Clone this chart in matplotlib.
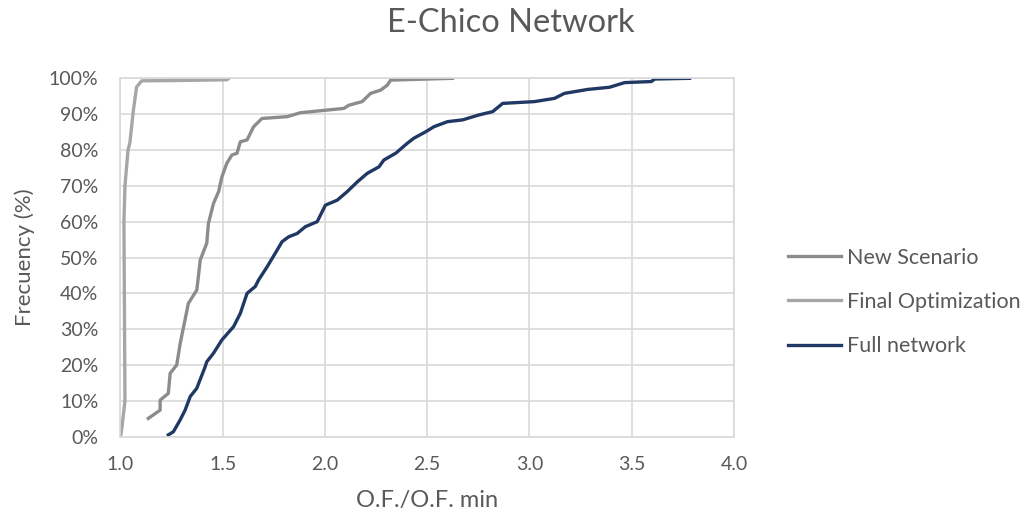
import matplotlib
matplotlib.use("Agg")
import matplotlib.pyplot as plt
from matplotlib.ticker import FuncFormatter, MultipleLocator

plt.rcParams['font.family'] = ['Lato', 'DejaVu Sans']

# cumulative frequency curves (O.F./O.F. min vs %)
new_x = [1.136, 1.194, 1.194, 1.234, 1.243, 1.275, 1.292, 1.332, 1.373, 1.381,
         1.39, 1.422, 1.43, 1.455, 1.48, 1.496, 1.52, 1.545, 1.57, 1.586,
         1.619, 1.651, 1.692, 1.815, 1.88, 2.092, 2.117, 2.182, 2.223, 2.272,
         2.305, 2.321, 2.624]
new_y = [5.1, 7.4, 10.2, 12.1, 17.7, 20.0, 26.0, 37.2, 40.9, 44.6,
         49.3, 54.0, 59.5, 65.1, 68.4, 72.5, 76.3, 78.6, 79.1, 82.3,
         82.8, 86.5, 88.8, 89.3, 90.4, 91.6, 92.5, 93.5, 95.8, 96.7,
         98.1, 99.5, 100.0]

final_x = [1.0, 1.006, 1.022, 1.017, 1.022, 1.037, 1.046, 1.063, 1.079, 1.104,
           1.30, 1.52, 1.53]
final_y = [0.0, 2.0, 10.0, 60.0, 70.0, 80.0, 82.0, 91.0, 97.6, 99.3,
           99.4, 99.6, 100.0]

full_x = [1.234, 1.259, 1.292, 1.316, 1.341, 1.373, 1.414, 1.422, 1.455, 1.496,
          1.553, 1.586, 1.619, 1.659, 1.675, 1.717, 1.757, 1.79, 1.823, 1.864,
          1.904, 1.962, 2.002, 2.06, 2.109, 2.158, 2.207, 2.264, 2.288, 2.346,
          2.403, 2.435, 2.493, 2.533, 2.599, 2.673, 2.754, 2.82, 2.869, 3.024,
          3.122, 3.171, 3.285, 3.391, 3.465, 3.596, 3.612, 3.783]
full_y = [0.5, 1.4, 4.7, 7.4, 11.2, 13.5, 19.5, 20.9, 23.3, 27.0,
          30.7, 34.4, 40.0, 41.9, 43.7, 47.4, 51.2, 54.4, 55.8, 56.7,
          58.6, 60.0, 64.6, 66.0, 68.4, 71.1, 73.5, 75.3, 77.2, 79.1,
          81.9, 83.3, 85.1, 86.5, 87.9, 88.4, 89.8, 90.7, 93.0, 93.5,
          94.4, 95.8, 96.9, 97.5, 98.8, 99.1, 99.8, 100.0]

grey_txt = '#595959'

fig = plt.figure(figsize=(10.27, 5.2), dpi=100)
ax = fig.add_axes([0.1173, 0.1602, 0.5974, 0.6892])

ax.plot(new_x, new_y, color='#8c8c8c', lw=2.4, label='New Scenario')
ax.plot(final_x, final_y, color='#a6a6a6', lw=2.4, label='Final Optimization')
ax.plot(full_x, full_y, color='#203864', lw=2.4, label='Full network')

ax.set_xlim(1.0, 4.0)
ax.set_ylim(0, 100)
ax.xaxis.set_major_locator(MultipleLocator(0.5))
ax.yaxis.set_major_locator(MultipleLocator(10))
ax.xaxis.set_major_formatter(FuncFormatter(lambda v, p: f'{v:.1f}'))
ax.yaxis.set_major_formatter(FuncFormatter(lambda v, p: f'{v:.0f}%'))
ax.grid(True, color='#d9d9d9', lw=1.2)
ax.set_axisbelow(True)
for s in ax.spines.values():
    s.set_color('#d9d9d9')
    s.set_linewidth(1.2)
ax.tick_params(length=0, labelsize=14, colors=grey_txt)
ax.tick_params(axis='y', pad=16)
ax.tick_params(axis='x', pad=14)

ax.set_xlabel('O.F./O.F. min', fontsize=17, color=grey_txt, labelpad=12)
ax.set_ylabel('Frecuency (%)', fontsize=16, color=grey_txt, labelpad=10)
fig.text(0.497, 0.955, 'E-Chico Network', ha='center', va='center',
         fontsize=23.5, color=grey_txt)

leg = ax.legend(loc='center left', bbox_to_anchor=(788 / 1027, 1 - 302 / 520),
                bbox_transform=fig.transFigure, frameon=False, borderpad=0,
                borderaxespad=0, fontsize=15.5, handlelength=2.45,
                handletextpad=0.3, labelspacing=1.12)
for t in leg.get_texts():
    t.set_color(grey_txt)

fig.savefig('out.png', dpi=100)
